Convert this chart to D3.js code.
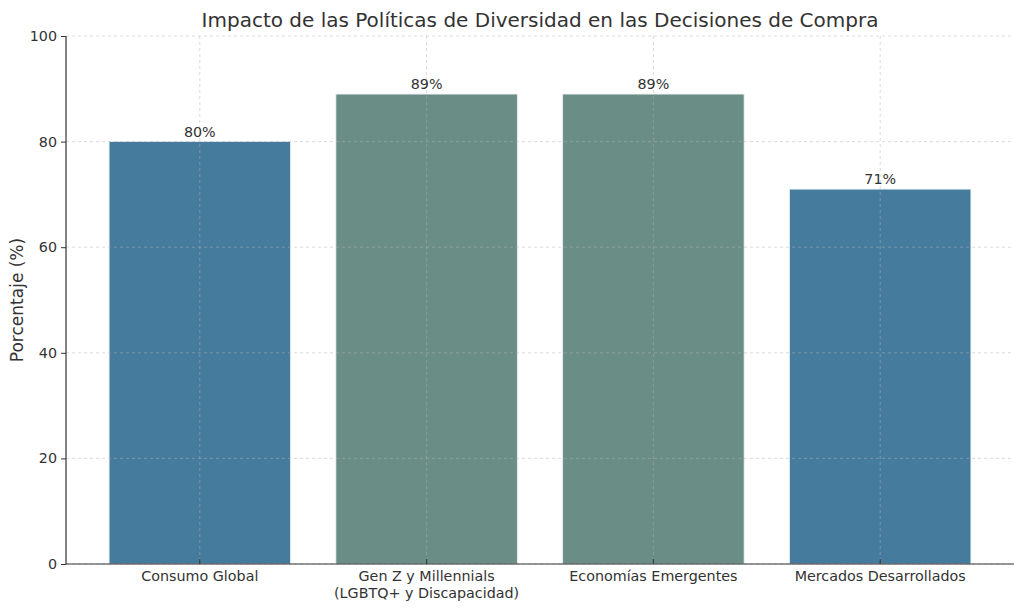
<!DOCTYPE html>
<html><head><meta charset="utf-8">
<script src="https://cdn.jsdelivr.net/npm/d3@7"></script>
<style>body{margin:0;background:#fff;} text{font-family:"DejaVu Sans",sans-serif;}</style>
</head><body>
<svg id="c" width="1024" height="611"></svg>
<script>
const categories = ["Consumo Global", "Gen Z y Millennials\n(LGBTQ+ y Discapacidad)", "Economías Emergentes", "Mercados Desarrollados"];
const values = [80, 89, 89, 71];
const colors = ["#457b9d", "#6a8d85", "#6a8d85", "#457b9d"];
const yTicks = [0, 20, 40, 60, 80, 100];
const title = "Impacto de las Políticas de Diversidad en las Decisiones de Compra";
const yLabel = "Porcentaje (%)";

const svg = d3.select("#c");
const L = 66, R = 1014, T = 36, B = 564;
const x = d3.scaleLinear().domain([-0.59, categories.length - 1 + 0.59]).range([L, R]);
const y = d3.scaleLinear().domain([0, 100]).range([B, T]);
const bw = x(0.8) - x(0);

// bars
svg.selectAll("rect.bar").data(values).join("rect")
  .attr("x", (d, i) => x(i) - bw / 2).attr("width", bw)
  .attr("y", d => y(d)).attr("height", d => y(0) - y(d))
  .attr("fill", (d, i) => colors[i]).attr("stroke", "#e8eef0").attr("stroke-width", 0.8);

// grid
const g = svg.append("g");
g.selectAll("line.hg").data(yTicks).join("line")
  .attr("x1", L).attr("x2", R).attr("y1", d => y(d)).attr("y2", d => y(d))
  .attr("stroke", "#b0b0b0").attr("stroke-opacity", 0.6).attr("stroke-dasharray", "3,3").attr("stroke-width", 0.8);
g.selectAll("line.vg").data(categories).join("line")
  .attr("x1", (d, i) => x(i)).attr("x2", (d, i) => x(i)).attr("y1", T).attr("y2", B)
  .attr("stroke", "#b0b0b0").attr("stroke-opacity", 0.6).attr("stroke-dasharray", "3,3").attr("stroke-width", 0.8);

// y axis
const yAxis = d3.axisLeft(y).tickValues(yTicks).tickSize(5).tickPadding(4);
const ya = svg.append("g").attr("transform", `translate(${L},0)`).call(yAxis);
ya.select(".domain").attr("stroke", "#333").attr("stroke-width", 1.2).attr("d", `M-0,${B}V${T}`);
ya.selectAll(".tick line").attr("stroke", "#333");
ya.selectAll(".tick text").attr("font-size", 14.3).attr("fill", "#333").attr("font-family", "DejaVu Sans");

// x axis
const xa = svg.append("g").attr("transform", `translate(0,${B})`);
xa.append("line").attr("x1", L).attr("x2", R).attr("y1", 0).attr("y2", 0).attr("stroke", "#333").attr("stroke-width", 1.2);
xa.selectAll("line.t").data(categories).join("line")
  .attr("x1", (d, i) => x(i)).attr("x2", (d, i) => x(i)).attr("y1", 0).attr("y2", -5).attr("stroke", "#333");
xa.selectAll("text.xl").data(categories).join("text")
  .attr("text-anchor", "middle").attr("font-size", 14.3).attr("fill", "#333")
  .attr("transform", (d, i) => `translate(${x(i)},17)`)
  .each(function (d) {
    d.split("\n").forEach((s, k) => d3.select(this).append("tspan").attr("x", 0).attr("dy", k ? 16.5 : 0).text(s));
  });

// value labels
svg.selectAll("text.v").data(values).join("text")
  .attr("x", (d, i) => x(i)).attr("y", d => y(d) - 5)
  .attr("text-anchor", "middle").attr("font-size", 14.3).attr("fill", "#333")
  .text(d => d + "%");

// title
svg.append("text").attr("x", (L + R) / 2).attr("y", 27).attr("text-anchor", "middle")
  .attr("font-size", 20).attr("fill", "#333").text(title);

// y label
svg.append("text").attr("transform", `translate(23,${(T + B) / 2}) rotate(-90)`)
  .attr("text-anchor", "middle").attr("font-size", 17).attr("fill", "#333").text(yLabel);
</script>
</body></html>
